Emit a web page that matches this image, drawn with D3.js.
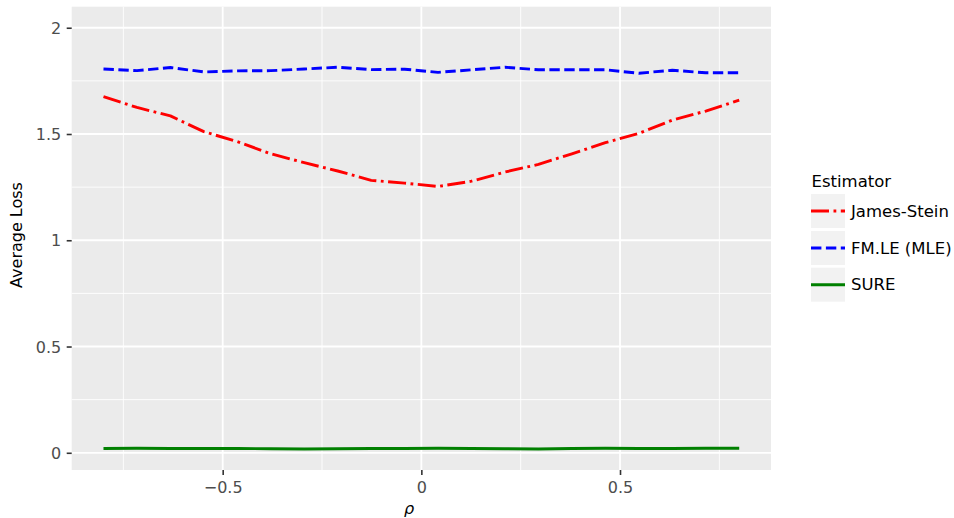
<!DOCTYPE html>
<html>
<head>
<meta charset="utf-8">
<script src="https://cdn.jsdelivr.net/npm/d3@7"></script>
<style>
  html, body { margin: 0; padding: 0; background: #fff; }
  svg { display: block; font-family: "DejaVu Sans", sans-serif; }
</style>
</head>
<body>
<svg id="chart" width="954" height="518"></svg>
<script>
const rho = [-0.8, -0.7158, -0.6316, -0.5474, -0.4632, -0.3789, -0.2947, -0.2105, -0.1263, -0.0421,
             0.0421, 0.1263, 0.2105, 0.2947, 0.3789, 0.4632, 0.5474, 0.6316, 0.7158, 0.8];
const jamesStein = [1.676, 1.625, 1.585, 1.511, 1.464, 1.407, 1.365, 1.326, 1.282, 1.269,
                    1.253, 1.278, 1.321, 1.357, 1.407, 1.459, 1.503, 1.565, 1.608, 1.659];
const fmle = [1.806, 1.798, 1.813, 1.792, 1.797, 1.798, 1.806, 1.814, 1.803, 1.805,
              1.790, 1.802, 1.814, 1.802, 1.802, 1.802, 1.786, 1.800, 1.788, 1.788];
const sure = [0.020, 0.021, 0.020, 0.020, 0.020, 0.019, 0.018, 0.019, 0.020, 0.020,
              0.021, 0.020, 0.019, 0.018, 0.020, 0.021, 0.020, 0.020, 0.021, 0.021];
const seriesNames = ["James-Stein", "FM.LE (MLE)", "SURE"];
const seriesColors = ["#FF0000", "#0000FF", "#008000"];
const xTicks = [-0.5, 0, 0.5];
const xMinor = [-0.75, -0.25, 0.25, 0.75];
const yTicks = [0, 0.5, 1, 1.5, 2];
const yMinor = [0.25, 0.75, 1.25, 1.75];
const xLabel = "ρ";
const yLabel = "Average Loss";
const legendTitle = "Estimator";

const seriesValues = [jamesStein, fmle, sure];
const dashes = ["18,4.5,2.8,4.5", "10.4,4.5", null];

const svg = d3.select("#chart");
const P = { left: 71.7, right: 771, top: 6.7, bottom: 470 };

const x = d3.scaleLinear().domain([-0.88, 0.88]).range([P.left, P.right]);
const y = d3.scaleLinear().domain([-0.081, 2.099]).range([P.bottom, P.top]);

svg.append("rect").attr("x", P.left).attr("y", P.top)
  .attr("width", P.right - P.left).attr("height", P.bottom - P.top)
  .attr("fill", "#EBEBEB");

const grid = svg.append("g");
xMinor.forEach(v => grid.append("line").attr("x1", x(v)).attr("x2", x(v))
  .attr("y1", P.top).attr("y2", P.bottom).attr("stroke", "#fff").attr("stroke-width", 0.9));
yMinor.forEach(v => grid.append("line").attr("y1", y(v)).attr("y2", y(v))
  .attr("x1", P.left).attr("x2", P.right).attr("stroke", "#fff").attr("stroke-width", 0.9));
xTicks.forEach(v => grid.append("line").attr("x1", x(v)).attr("x2", x(v))
  .attr("y1", P.top).attr("y2", P.bottom).attr("stroke", "#fff").attr("stroke-width", 1.8));
yTicks.forEach(v => grid.append("line").attr("y1", y(v)).attr("y2", y(v))
  .attr("x1", P.left).attr("x2", P.right).attr("stroke", "#fff").attr("stroke-width", 1.8));

const fmt = v => (v < 0 ? "\u2212" : "") + String(Math.abs(v));
const xAxis = d3.axisBottom(x).tickValues(xTicks).tickSize(5).tickPadding(5).tickFormat(fmt);
const yAxis = d3.axisLeft(y).tickValues(yTicks).tickSize(5).tickPadding(5).tickFormat(fmt);

const gx = svg.append("g").attr("transform", `translate(0,${P.bottom})`).call(xAxis);
const gy = svg.append("g").attr("transform", `translate(${P.left},0)`).call(yAxis);
[gx, gy].forEach(g => {
  g.select(".domain").remove();
  g.selectAll(".tick line").attr("stroke", "#333333").attr("stroke-width", 1.6);
  g.selectAll(".tick text").attr("fill", "#4D4D4D").style("font-size", "16px")
    .style("font-family", "DejaVu Sans");
});
gx.selectAll(".tick text").attr("dy", null).attr("y", 17.5).attr("dominant-baseline", "central");
gy.selectAll(".tick text").attr("dy", null).attr("x", -10.5).attr("dominant-baseline", "central");

const line = d3.line().x((d, i) => x(rho[i])).y(d => y(d));
seriesValues.forEach((vals, i) => {
  const p = svg.append("path").datum(vals)
    .attr("d", line).attr("fill", "none")
    .attr("stroke", seriesColors[i]).attr("stroke-width", 2.9)
    .attr("stroke-linejoin", "round");
  if (dashes[i]) p.attr("stroke-dasharray", dashes[i]).attr("stroke-linecap", "butt");
});

svg.append("text").attr("x", 409).attr("y", 514).attr("text-anchor", "middle")
  .style("font-size", "16px").style("font-style", "italic").attr("fill", "#000")
  .text(xLabel);
svg.append("text").attr("transform", "translate(22,235) rotate(-90)")
  .attr("text-anchor", "middle").style("font-size", "16px").attr("fill", "#000")
  .text(yLabel);

const lg = svg.append("g");
lg.append("text").attr("x", 811.5).attr("y", 186.5).style("font-size", "16.5px")
  .attr("fill", "#000").text(legendTitle);
const keyY = [194, 231, 267.7];
seriesNames.forEach((name, i) => {
  lg.append("rect").attr("x", 811).attr("y", keyY[i]).attr("width", 34).attr("height", 34)
    .attr("fill", "#F2F2F2");
  const cy = keyY[i] + 17;
  const l = lg.append("line").attr("x1", 811).attr("x2", 845).attr("y1", cy).attr("y2", cy)
    .attr("stroke", seriesColors[i]).attr("stroke-width", 2.9);
  if (dashes[i]) l.attr("stroke-dasharray", dashes[i]);
  lg.append("text").attr("x", 851).attr("y", cy).attr("dominant-baseline", "central")
    .style("font-size", "16.5px").attr("fill", "#000").text(name);
});
</script>
</body>
</html>
